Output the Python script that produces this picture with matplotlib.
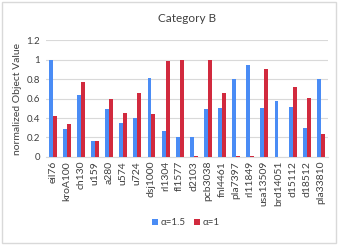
import numpy as np
import matplotlib.pyplot as plt

# instance names and normalized objective values
instances = ["eil76", "kroA100", "ch130", "u159", "a280", "u574", "u724",
             "dsj1000", "rl1304", "fl1577", "d2103", "pcb3038", "fnl4461",
             "pla7397", "rl11849", "usa13509", "brd14051", "d15112",
             "d18512", "pla33810"]
alpha15 = [1.0, 0.29, 0.64, 0.16, 0.49, 0.345, 0.395, 0.81, 0.27, 0.20,
           0.20, 0.49, 0.50, 0.80, 0.95, 0.50, 0.58, 0.51, 0.30, 0.80]
alpha1 = [0.42, 0.34, 0.77, 0.165, 0.60, 0.45, 0.66, 0.44, 0.99, 1.0,
          0.005, 1.0, 0.655, 0.01, 0.01, 0.91, 0.0, 0.72, 0.61, 0.235]

plt.rcParams['font.family'] = ['Lato', 'DejaVu Sans']

fig = plt.figure(figsize=(3.38, 2.45), dpi=100)
ax = fig.add_axes([0.135, 0.36, 0.835, 0.475])

x = np.arange(len(instances))
w = 0.28
ax.bar(x - w/2, alpha15, w, color="#4a8cf5", label="\u03b1=1.5", zorder=3)
ax.bar(x + w/2, alpha1, w, color="#d12a3e", label="\u03b1=1", zorder=3)

ax.set_xlim(-0.5, len(instances) - 0.5)
ax.set_ylim(0, 1.2)
ax.set_yticks([0, 0.2, 0.4, 0.6, 0.8, 1.0, 1.2])
ax.set_yticklabels(["0", "0.2", "0.4", "0.6", "0.8", "1", "1.2"])
ax.set_xticks(x)
ax.set_xticklabels(instances, rotation=90)
ax.tick_params(axis="x", length=0, labelsize=7.5, colors="#404040", pad=3)
ax.tick_params(axis="y", length=0, labelsize=7, colors="#404040", pad=4)
ax.yaxis.grid(True, color="#d9d9d9", lw=0.8, zorder=0)
for s in ["top", "right", "left"]:
    ax.spines[s].set_visible(False)
ax.spines["bottom"].set_color("#d9d9d9")
ax.set_ylabel("normalized Object Value", fontsize=7.5, color="#404040",
              labelpad=3)
ax.set_title("Category B", fontsize=8.5, color="#404040", pad=13)

fig.legend(loc="center", bbox_to_anchor=(0.55, 0.09), ncol=2, frameon=False,
           fontsize=7, handlelength=0.6, handleheight=0.6,
           handletextpad=0.3, columnspacing=0.8, labelcolor="#404040")

# light frame around the chart
fig.patches.append(plt.Rectangle((0.005, 0.01), 0.99, 0.98,
                                 transform=fig.transFigure, fill=False,
                                 edgecolor="#d9d9d9", lw=1))

fig.savefig("out.png", dpi=100)
